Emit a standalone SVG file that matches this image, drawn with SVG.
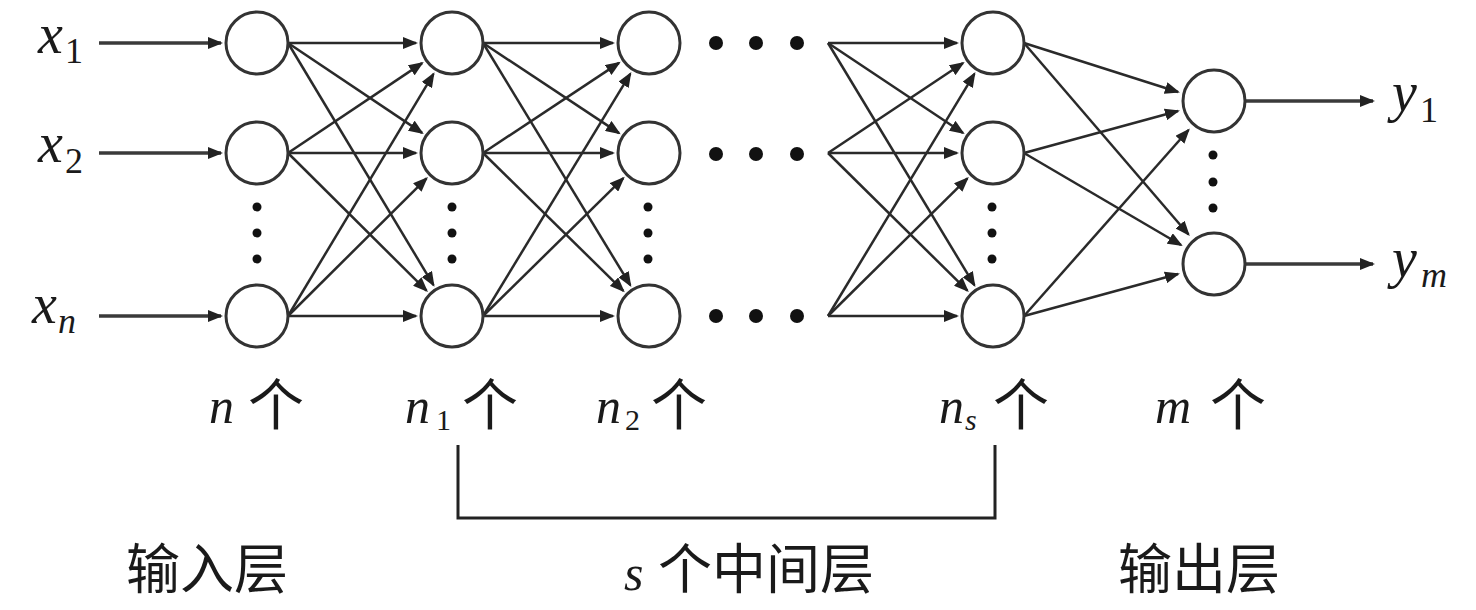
<svg xmlns="http://www.w3.org/2000/svg" width="1476" height="610" viewBox="0 0 1476 610">
<style>
.node{fill:#fff;stroke:#333;stroke-width:3}
.dot{fill:#111}
.edge{stroke:#2a2a2a;stroke-width:2.5;fill:none}
.io{stroke:#3a3a3a;stroke-width:3.4;fill:none}
.br{stroke:#222;stroke-width:3;fill:none}
</style>
<defs>
<marker id="ah" markerUnits="userSpaceOnUse" markerWidth="16" markerHeight="12" refX="13" refY="6" orient="auto">
<path d="M0,0 L15,6 L0,12 z" fill="#222"/>
</marker>
</defs>
<rect width="1476" height="610" fill="#fff"/>

<g id="connectors" marker-end="url(#ah)">
<g class="io">
<line x1="99" y1="43" x2="221" y2="43"/>
<line x1="99" y1="153" x2="221" y2="153"/>
<line x1="99" y1="316" x2="221" y2="316"/>
<line x1="1245" y1="101" x2="1373" y2="101"/>
<line x1="1245" y1="264" x2="1373" y2="264"/>
</g>
<g class="edge">
<line x1="288" y1="43" x2="416" y2="43"/>
<line x1="288" y1="43" x2="422.1" y2="132.9"/>
<line x1="288" y1="43" x2="433.5" y2="285.1"/>
<line x1="288" y1="153" x2="422.1" y2="63.1"/>
<line x1="288" y1="153" x2="416" y2="153"/>
<line x1="288" y1="153" x2="426.5" y2="290.6"/>
<line x1="288" y1="316" x2="433.5" y2="73.9"/>
<line x1="288" y1="316" x2="426.5" y2="178.4"/>
<line x1="288" y1="316" x2="416" y2="316"/>

<line x1="483" y1="43" x2="613" y2="43"/>
<line x1="483" y1="43" x2="619" y2="133.1"/>
<line x1="483" y1="43" x2="630.3" y2="285.2"/>
<line x1="483" y1="153" x2="619" y2="62.9"/>
<line x1="483" y1="153" x2="613" y2="153"/>
<line x1="483" y1="153" x2="623.3" y2="290.8"/>
<line x1="483" y1="316" x2="630.3" y2="73.8"/>
<line x1="483" y1="316" x2="623.3" y2="178.2"/>
<line x1="483" y1="316" x2="613" y2="316"/>

<line x1="828" y1="43" x2="957" y2="43"/>
<line x1="828" y1="43" x2="963" y2="133"/>
<line x1="828" y1="43" x2="974.4" y2="285.2"/>
<line x1="828" y1="153" x2="963" y2="63"/>
<line x1="828" y1="153" x2="957" y2="153"/>
<line x1="828" y1="153" x2="967.4" y2="290.7"/>
<line x1="828" y1="316" x2="974.4" y2="73.8"/>
<line x1="828" y1="316" x2="967.4" y2="178.3"/>
<line x1="828" y1="316" x2="957" y2="316"/>

<line x1="1024" y1="43" x2="1178" y2="92"/>
<line x1="1024" y1="43" x2="1188.5" y2="234.5"/>
<line x1="1024" y1="153" x2="1178" y2="111"/>
<line x1="1024" y1="153" x2="1181" y2="245"/>
<line x1="1024" y1="316" x2="1188.5" y2="130"/>
<line x1="1024" y1="316" x2="1178" y2="274"/>
</g>
</g>

<g id="input-layer">
<circle class="node" cx="257" cy="43" r="31"/>
<circle class="node" cx="257" cy="153" r="31"/>
<circle class="node" cx="257" cy="316" r="31"/>
<circle class="dot" cx="257" cy="207" r="4.5"/>
<circle class="dot" cx="257" cy="233" r="4.5"/>
<circle class="dot" cx="257" cy="259" r="4.5"/>
</g>
<g id="hidden-layer-1">
<circle class="node" cx="452" cy="43" r="31"/>
<circle class="node" cx="452" cy="153" r="31"/>
<circle class="node" cx="452" cy="316" r="31"/>
<circle class="dot" cx="452" cy="207" r="4.5"/>
<circle class="dot" cx="452" cy="233" r="4.5"/>
<circle class="dot" cx="452" cy="259" r="4.5"/>
</g>
<g id="hidden-layer-2">
<circle class="node" cx="649" cy="43" r="31"/>
<circle class="node" cx="649" cy="153" r="31"/>
<circle class="node" cx="649" cy="316" r="31"/>
<circle class="dot" cx="648" cy="207" r="4.5"/>
<circle class="dot" cx="648" cy="233" r="4.5"/>
<circle class="dot" cx="648" cy="259" r="4.5"/>
</g>
<g id="ellipsis">
<circle class="dot" cx="716" cy="43" r="7"/>
<circle class="dot" cx="756" cy="43" r="7"/>
<circle class="dot" cx="797" cy="43" r="7"/>
<circle class="dot" cx="716" cy="154" r="7"/>
<circle class="dot" cx="756" cy="154" r="7"/>
<circle class="dot" cx="797" cy="154" r="7"/>
<circle class="dot" cx="716" cy="316" r="7"/>
<circle class="dot" cx="756" cy="316" r="7"/>
<circle class="dot" cx="797" cy="316" r="7"/>
</g>
<g id="hidden-layer-s">
<circle class="node" cx="993" cy="43" r="31"/>
<circle class="node" cx="993" cy="153" r="31"/>
<circle class="node" cx="993" cy="316" r="31"/>
<circle class="dot" cx="992" cy="207" r="4.5"/>
<circle class="dot" cx="992" cy="233" r="4.5"/>
<circle class="dot" cx="992" cy="259" r="4.5"/>
</g>
<g id="output-layer">
<circle class="node" cx="1214" cy="101" r="31"/>
<circle class="node" cx="1214" cy="264" r="31"/>
<circle class="dot" cx="1213" cy="155" r="4.5"/>
<circle class="dot" cx="1213" cy="182" r="4.5"/>
<circle class="dot" cx="1213" cy="208" r="4.5"/>
</g>

<g id="io-labels" fill="#1a1a1a">
<text font-family="'Liberation Serif', 'Noto Sans CJK SC', serif" font-style="italic" x="38" y="53" font-size="56">x</text><text font-family="'Liberation Serif', 'Noto Sans CJK SC', serif" x="65" y="63" font-size="36">1</text>
<text font-family="'Liberation Serif', 'Noto Sans CJK SC', serif" font-style="italic" x="38" y="162" font-size="56">x</text><text font-family="'Liberation Serif', 'Noto Sans CJK SC', serif" x="65" y="173" font-size="36">2</text>
<text font-family="'Liberation Serif', 'Noto Sans CJK SC', serif" font-style="italic" x="32" y="323" font-size="56">x</text><text font-family="'Liberation Serif', 'Noto Sans CJK SC', serif" font-style="italic" x="58" y="333" font-size="36">n</text>
<text font-family="'Liberation Serif', 'Noto Sans CJK SC', serif" font-style="italic" x="1392" y="111" font-size="56">y</text><text font-family="'Liberation Serif', 'Noto Sans CJK SC', serif" x="1420" y="122" font-size="36">1</text>
<text font-family="'Liberation Serif', 'Noto Sans CJK SC', serif" font-style="italic" x="1392" y="277" font-size="56">y</text><text font-family="'Liberation Serif', 'Noto Sans CJK SC', serif" font-style="italic" x="1421" y="287" font-size="36">m</text>
</g>

<g id="count-labels" fill="#1a1a1a">
<text font-family="'Liberation Serif', 'Noto Sans CJK SC', serif" font-style="italic" x="209" y="423" font-size="50">n</text><text font-family="'Liberation Serif', 'Noto Sans CJK SC', serif" x="248" y="425" font-size="56">个</text>
<text font-family="'Liberation Serif', 'Noto Sans CJK SC', serif" font-style="italic" x="405" y="423" font-size="50">n</text><text font-family="'Liberation Serif', 'Noto Sans CJK SC', serif" x="436" y="430" font-size="30">1</text><text font-family="'Liberation Serif', 'Noto Sans CJK SC', serif" x="462" y="425" font-size="56">个</text>
<text font-family="'Liberation Serif', 'Noto Sans CJK SC', serif" font-style="italic" x="596" y="423" font-size="50">n</text><text font-family="'Liberation Serif', 'Noto Sans CJK SC', serif" x="625" y="430" font-size="30">2</text><text font-family="'Liberation Serif', 'Noto Sans CJK SC', serif" x="651" y="425" font-size="56">个</text>
<text font-family="'Liberation Serif', 'Noto Sans CJK SC', serif" font-style="italic" x="939" y="423" font-size="50">n</text><text font-family="'Liberation Serif', 'Noto Sans CJK SC', serif" font-style="italic" x="965" y="430" font-size="30">s</text><text font-family="'Liberation Serif', 'Noto Sans CJK SC', serif" x="993" y="425" font-size="56">个</text>
<text font-family="'Liberation Serif', 'Noto Sans CJK SC', serif" font-style="italic" x="1155" y="423" font-size="50">m</text><text font-family="'Liberation Serif', 'Noto Sans CJK SC', serif" x="1210" y="425" font-size="56">个</text>
</g>

<g id="bracket">
<path class="br" d="M458,445 V518 H995 V445"/>
</g>

<g id="layer-labels" fill="#1a1a1a">
<text font-family="'Liberation Serif', 'Noto Sans CJK SC', serif" x="126" y="589" font-size="54">输入层</text>
<text font-family="'Liberation Serif', 'Noto Sans CJK SC', serif" font-style="italic" x="624" y="590" font-size="50">s</text><text font-family="'Liberation Serif', 'Noto Sans CJK SC', serif" x="658" y="589" font-size="54">个中间层</text>
<text font-family="'Liberation Serif', 'Noto Sans CJK SC', serif" x="1118" y="589" font-size="54">输出层</text>
</g>
</svg>
